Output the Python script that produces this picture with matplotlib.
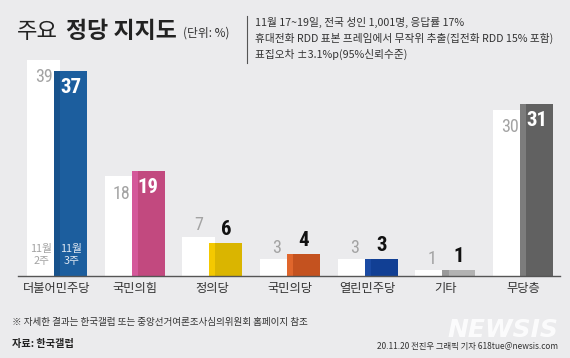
import matplotlib
matplotlib.use('Agg')
import matplotlib.pyplot as plt
from matplotlib import font_manager
from matplotlib.lines import Line2D

parties = ['더불어민주당', '국민의힘', '정의당', '국민의당', '열린민주당', '기타', '무당층']
week2 = [39, 18, 7, 3, 3, 1, 30]   # 11월 2주
week3 = [37, 19, 6, 4, 3, 1, 31]   # 11월 3주
colors = ['#1c5e9e', '#c2497f', '#dab500', '#c4521f', '#113f94', '#b2b2b2', '#616161']
strip_colors = ['#17528c', '#d4589a', '#f4c900', '#e0662c', '#1a4aa3', '#9a9a9a', '#7c7c7c']

notes = ['11월 17~19일, 전국 성인 1,001명, 응답률 17%',
         '휴대전화 RDD 표본 프레임에서 무작위 추출(집전화 RDD 15% 포함)',
         '표집오차 ±3.1%p(95%신뢰수준)']

bg = '#ebebed'
plt.rcParams['font.family'] = ['Noto Sans CJK KR', 'DejaVu Sans']

names = {f.name for f in font_manager.fontManager.ttflist}
num_font = next((n for n in ['Liberation Sans Narrow', 'Roboto Condensed', 'Liberation Sans']
                 if n in names), 'DejaVu Sans')

W, H = 570, 358
fig = plt.figure(figsize=(W / 100, H / 100), dpi=100, facecolor=bg)


def fx(px):
    return px / W


def fy(py):
    return 1 - py / H


ax = fig.add_axes([fx(18), 82 / H, 542 / W, 221.6 / H])
ax.set_facecolor(bg)
ax.set_xlim(-0.502, 6.474)
ax.set_ylim(0, 40)

bw = 0.425
x = list(range(len(parties)))
wl = [i - 0.386 for i in x]
cl = [i - 0.039 for i in x]
ax.bar(wl, week2, width=bw, align='edge', color='white', zorder=2)
ax.bar(cl, week3, width=bw, align='edge', color=colors, zorder=3)
ax.bar(cl, week3, width=0.078, align='edge', color=strip_colors, zorder=4)

for i in x:
    a, b = week2[i], week3[i]
    if a >= 10:
        ax.annotate(str(a), (wl[i] + bw / 2, a), xytext=(0, -6), textcoords='offset points',
                    ha='center', va='top', fontsize=13, color='#a3a3a3', family=num_font, zorder=5)
    else:
        ax.annotate(str(a), (wl[i] + bw / 2, a), xytext=(0, 2), textcoords='offset points',
                    ha='center', va='bottom', fontsize=13, color='#a3a3a3', family=num_font, zorder=5)
    if b >= 10:
        ax.annotate(str(b), (cl[i] + bw / 2, b), xytext=(0, -5), textcoords='offset points',
                    ha='center', va='top', fontsize=15, color='white', fontweight='bold',
                    family=num_font, zorder=5)
    else:
        ax.annotate(str(b), (cl[i] + bw / 2, b), xytext=(0, 3), textcoords='offset points',
                    ha='center', va='bottom', fontsize=15, color='#111111', fontweight='bold',
                    family=num_font, zorder=5)

# week labels inside the first pair of bars
ax.text(wl[0] + bw / 2 - 0.03, 1.8, '11월\n2주', ha='center', va='bottom', fontsize=7.8,
        color='#a3a3a3', linespacing=1.2, zorder=5)
ax.text(cl[0] + bw / 2 + 0.01, 1.8, '11월\n3주', ha='center', va='bottom', fontsize=7.8,
        color='#dfe8f2', linespacing=1.2, zorder=5)

for s in ['top', 'right', 'left']:
    ax.spines[s].set_visible(False)
ax.spines['bottom'].set_color('#555555')
ax.spines['bottom'].set_linewidth(1.0)
ax.spines['bottom'].set_zorder(6)
ax.set_yticks([])
ax.set_xticks(x)
ax.set_xticklabels(parties, fontsize=8.8, color='#333333')
ax.tick_params(axis='x', length=0, pad=4)

# title
fig.text(fx(17), fy(38), '주요', fontsize=16, color='#222222', va='baseline')
fig.text(fx(66), fy(38), '정당 지지도', fontsize=16.5, color='#222222', fontweight='bold', va='baseline')
fig.text(fx(183), fy(37), '(단위: %)', fontsize=8.5, color='#333333', va='baseline')

fig.add_artist(Line2D([fx(247), fx(247)], [fy(16), fy(63)], color='#555555', lw=0.8))
for k, line in enumerate(notes):
    fig.text(fx(255), fy(22 + 16 * k), line, fontsize=7.7, color='#333333', va='center')

# footer
fig.text(fx(12), fy(323), '※ 자세한 결과는 한국갤럽 또는 중앙선거여론조사심의위원회 홈페이지 참조',
         fontsize=6.9, color='#333333', va='center')
fig.text(fx(12), fy(344), '자료: 한국갤럽', fontsize=7.3, color='#222222', fontweight='bold', va='center')
fig.text(fx(558), fy(346), '20.11.20 전진우 그래픽 기자 618tue@newsis.com', fontsize=6.0,
         color='#333333', va='center', ha='right')
fig.text(fx(558), fy(330), 'NEWSIS', fontsize=18, color='white', alpha=0.85, fontweight='bold',
         style='italic', family='DejaVu Sans', va='center', ha='right')

fig.savefig('out.png', dpi=100, facecolor=bg)
